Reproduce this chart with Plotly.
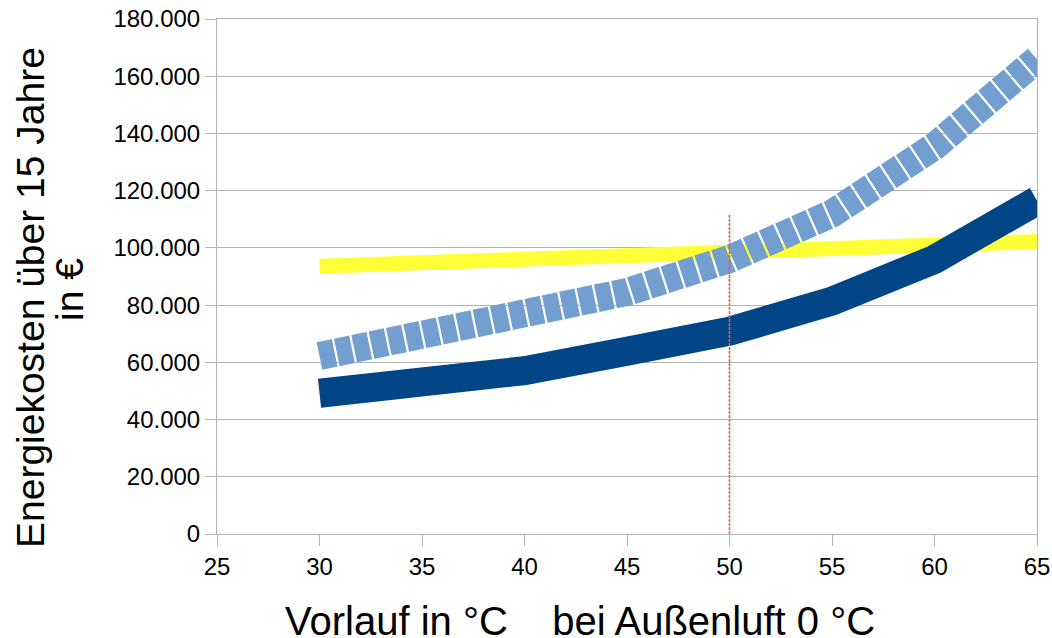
import plotly.graph_objects as go

# Data
vorlauf = [30, 35, 40, 45, 50, 55, 60, 65]
kosten_dunkelblau = [49200, 53200, 57100, 63900, 70900, 81400, 96000, 116500]
kosten_hellblau = [62200, 68900, 76500, 84600, 96100, 112000, 135500, 165900]
kosten_gelb = [93600, 94900, 96000, 96600, 97600, 99600, 101000, 102200]
marker_x = [50, 50]
marker_y = [0, 111800]

x_ticks = [25, 30, 35, 40, 45, 50, 55, 60, 65]
y_ticks = [0, 20000, 40000, 60000, 80000, 100000, 120000, 140000, 160000, 180000]

FONT = "Liberation Sans, Arial, sans-serif"
GRID = "#b3b3b3"

fig = go.Figure()
fig.add_trace(go.Scatter(x=vorlauf, y=kosten_gelb, mode="lines",
                         line=dict(color="#ffff38", width=15), showlegend=False))
fig.add_trace(go.Scatter(x=vorlauf, y=kosten_dunkelblau, mode="lines",
                         line=dict(color="#004586", width=29), showlegend=False))
fig.add_trace(go.Scatter(x=vorlauf, y=kosten_hellblau, mode="lines",
                         line=dict(color="#729fcf", width=28, dash="15.5px,2.2px"),
                         showlegend=False))
fig.add_trace(go.Scatter(x=marker_x, y=marker_y, mode="lines",
                         line=dict(color="#ff5a2a", width=1.6, dash="3px,1px"),
                         showlegend=False))

fig.update_layout(
    width=1052, height=638,
    margin=dict(l=217, r=15, t=19, b=104, autoexpand=False),
    paper_bgcolor="white", plot_bgcolor="white",
    separators=",.",
    font=dict(family=FONT, color="black", size=24),
    showlegend=False,
)
fig.update_xaxes(
    range=[25, 65], tickvals=x_ticks, ticks="outside", ticklen=11,
    tickcolor=GRID, showgrid=False, showline=True, linecolor=GRID, linewidth=1,
    mirror=True, zeroline=False, automargin=False,
    tickfont=dict(size=24, family=FONT, color="black"),
)
fig.update_yaxes(
    range=[0, 180000], tickvals=y_ticks, tickformat=",.0f", ticks="outside",
    ticklen=11, tickcolor=GRID, showgrid=True, gridcolor=GRID, gridwidth=1,
    showline=True, linecolor=GRID, linewidth=1, mirror=True, zeroline=False,
    automargin=False,
    tickfont=dict(size=24, family=FONT, color="black"),
)

# Axis titles as annotations (pixel-positioned)
pw, ph = 1052 - 217 - 15, 638 - 19 - 104
def px_x(p):
    return (p - 217) / pw
def px_y(p):
    return (534 - p) / ph

fig.add_annotation(text="Energiekosten über 15 Jahre", textangle=-90,
                   xref="paper", yref="paper", x=px_x(30), y=px_y(298),
                   xanchor="center", yanchor="middle", showarrow=False,
                   font=dict(size=39, family=FONT, color="black"))
fig.add_annotation(text="in €", textangle=-90,
                   xref="paper", yref="paper", x=px_x(69), y=px_y(290),
                   xanchor="center", yanchor="middle", showarrow=False,
                   font=dict(size=39, family=FONT, color="black"))
fig.add_annotation(text="Vorlauf in °C\u00a0\u00a0\u00a0\u00a0bei Außenluft 0 °C",
                   xref="paper", yref="paper", x=px_x(580), y=px_y(621),
                   xanchor="center", yanchor="middle", showarrow=False,
                   font=dict(size=40, family=FONT, color="black"))

fig.write_html(
    "out.html",
    config={"displayModeBar": False},
    post_script="document.body.style.margin='0';document.body.style.padding='0';",
)
